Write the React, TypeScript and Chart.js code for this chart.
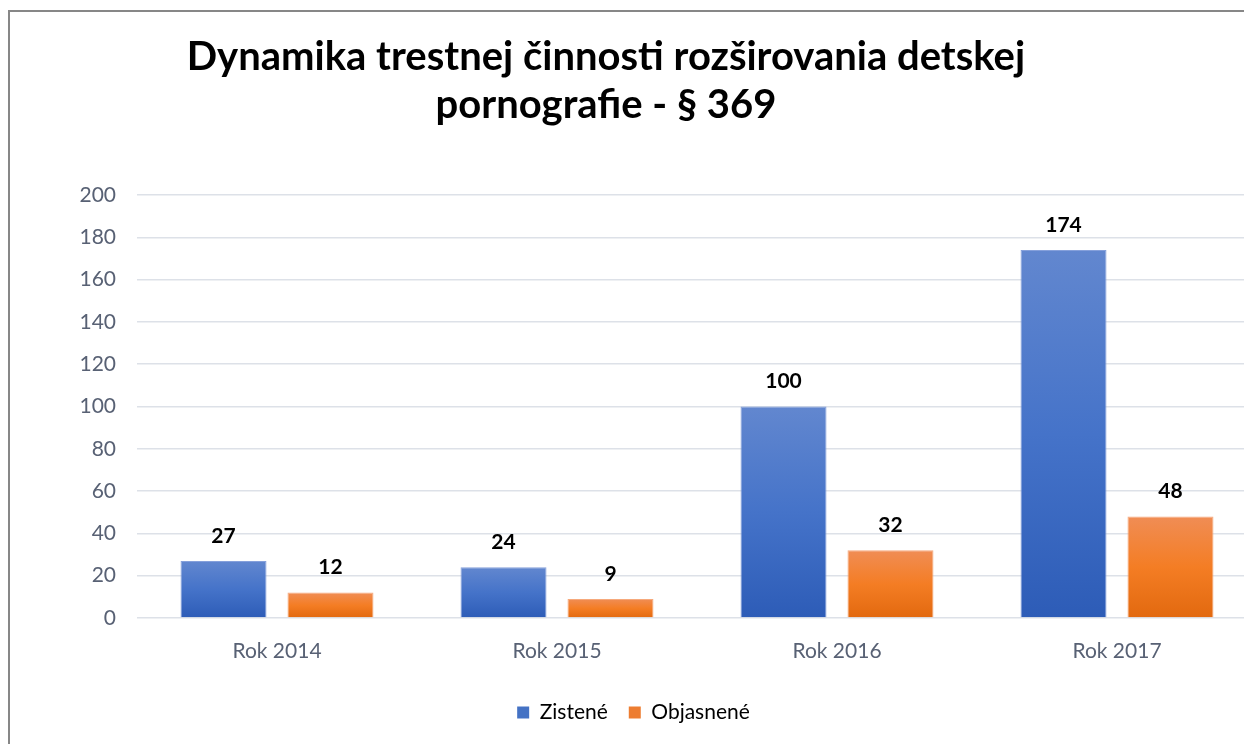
import React, { useEffect, useRef } from "react";
import { Chart, registerables } from "chart.js";

Chart.register(...registerables);

const categories = ["Rok 2014", "Rok 2015", "Rok 2016", "Rok 2017"];
const zistene = [27, 24, 100, 174];
const objasnene = [12, 9, 32, 48];
const seriesNames = ["Zistené", "Objasnené"];
const titleLines = ["Dynamika trestnej činnosti rozširovania detskej", "pornografie - § 369"];

const FONT = "Lato, 'Open Sans', sans-serif";

function makeGradient(ctx: any, stops: string[]) {
  const chart = ctx.chart;
  const area = chart.chartArea;
  if (!area || !chart.scales || !chart.scales.y || ctx.type !== "data") return stops[1];
  const y = chart.scales.y;
  const v = ctx.raw as number;
  const top = y.getPixelForValue(v);
  const bottom = y.getPixelForValue(0);
  if (!isFinite(top) || !isFinite(bottom) || bottom - top < 1) return stops[1];
  const g = chart.ctx.createLinearGradient(0, top, 0, bottom);
  g.addColorStop(0, stops[0]);
  g.addColorStop(0.5, stops[1]);
  g.addColorStop(1, stops[2]);
  return g;
}

const valueLabels = {
  id: "valueLabels",
  afterDatasetsDraw(chart: any) {
    const ctx = chart.ctx;
    ctx.save();
    ctx.font = `bold 21px ${FONT}`;
    ctx.fillStyle = "#000000";
    ctx.textAlign = "center";
    ctx.textBaseline = "middle";
    chart.data.datasets.forEach((ds: any, i: number) => {
      const meta = chart.getDatasetMeta(i);
      meta.data.forEach((el: any, j: number) => {
        ctx.fillText(String(ds.data[j]), el.x, el.y - 25);
      });
    });
    ctx.restore();
  },
};

export default function App() {
  const ref = useRef<HTMLCanvasElement | null>(null);

  useEffect(() => {
    if (!ref.current) return;
    const chart = new Chart(ref.current, {
      type: "bar",
      data: {
        labels: categories,
        datasets: [
          {
            label: seriesNames[0],
            data: zistene,
            backgroundColor: (c: any) => makeGradient(c, ["#6287cf", "#4573c9", "#2d5cb7"]),
            borderColor: "rgba(120,150,215,0.9)",
            borderWidth: 1,
            categoryPercentage: 0.764,
            barPercentage: 0.804,
          },
          {
            label: seriesNames[1],
            data: objasnene,
            backgroundColor: (c: any) => makeGradient(c, ["#f08d55", "#f47d24", "#e2690f"]),
            borderColor: "rgba(245,160,110,0.9)",
            borderWidth: 1,
            categoryPercentage: 0.764,
            barPercentage: 0.804,
          },
        ],
      },
      options: {
        animation: false,
        responsive: false,
        maintainAspectRatio: false,
        layout: { padding: { top: 183, left: 0, right: 5, bottom: 9 } },
        plugins: {
          title: { display: false },
          tooltip: { enabled: false },
          legend: {
            display: true,
            position: "bottom",
            labels: {
              boxWidth: 12,
              boxHeight: 12,
              padding: 21,
              color: "#586174",
              font: { family: FONT, size: 21 },
              generateLabels: (chart: any) =>
                chart.data.datasets.map((ds: any, i: number) => ({
                  text: ds.label,
                  fillStyle: i === 0 ? "#4472c4" : "#ed7d31",
                  strokeStyle: i === 0 ? "#4472c4" : "#ed7d31",
                  lineWidth: 0,
                  hidden: false,
                  datasetIndex: i,
                })),
            },
          },
        },
        scales: {
          x: {
            grid: { display: false, drawTicks: false },
            border: { display: false },
            ticks: {
              color: "#586174",
              font: { family: FONT, size: 21 },
              padding: 21,
            },
            afterFit: (s: any) => {
              s.height = 63;
            },
          },
          y: {
            min: 0,
            max: 200,
            grid: { color: "#dde1e8", lineWidth: 1.5, drawTicks: false },
            border: { display: false },
            ticks: {
              stepSize: 20,
              color: "#586174",
              font: { family: FONT, size: 21 },
              padding: 21,
            },
            afterFit: (s: any) => {
              s.width = 127;
            },
          },
        },
      },
      plugins: [valueLabels],
    });
    return () => chart.destroy();
  }, []);

  return (
    <div
      style={{
        position: "fixed",
        left: 0,
        top: 0,
        width: 1244,
        height: 744,
        overflow: "hidden",
        background: "#ffffff",
      }}
    >
      <div
        style={{
          position: "absolute",
          left: 8,
          top: 10,
          width: 1260,
          height: 760,
          border: "2px solid #878787",
          background: "#ffffff",
        }}
      >
        <canvas ref={ref} width={1252} height={730} style={{ display: "block", width: 1252, height: 730 }} />
      </div>
      <div
        style={{
          position: "absolute",
          left: 0,
          top: 31,
          width: 1212,
          textAlign: "center",
          fontFamily: FONT,
          fontWeight: 700,
          fontSize: 40,
          lineHeight: "48px",
          color: "#000000",
        }}
      >
        {titleLines.map((t, i) => (
          <div key={i}>{t}</div>
        ))}
      </div>
    </div>
  );
}
